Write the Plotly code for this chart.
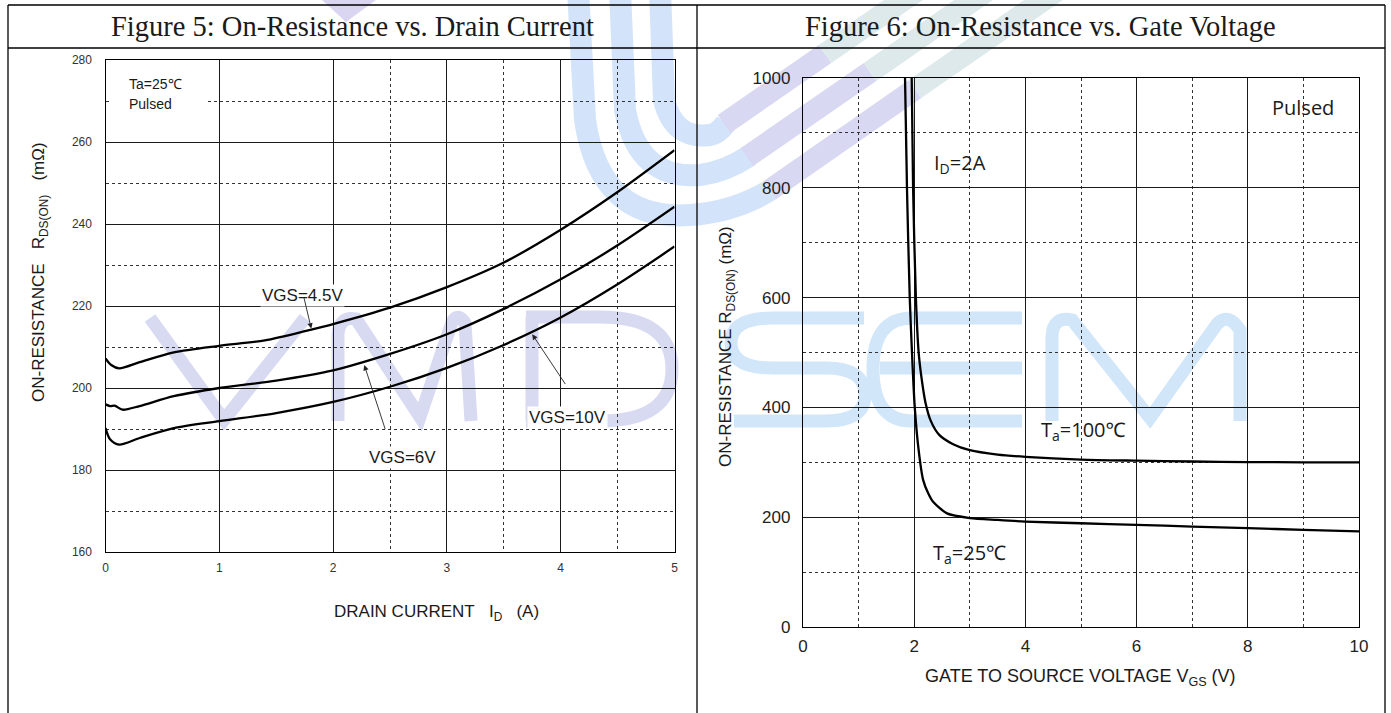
import plotly.graph_objects as go

W, H = 1391, 713

# ---------------- Figure 5 data: On-Resistance vs. Drain Current ----------------
id_vgs45 = [0, 0.05, 0.12, 0.3, 0.6, 1.0, 1.4, 1.8, 2.0, 2.5, 3.0, 3.5, 4.0, 4.5, 5.0]
r_vgs45 = [207.2, 205.6, 204.8, 206.3, 208.7, 210.3, 211.6, 214.2, 215.6, 219.6, 224.6, 230.6, 238.6, 247.8, 258.0]

id_vgs6 = [0, 0.04, 0.08, 0.15, 0.3, 0.6, 1.0, 1.5, 2.0, 2.5, 3.0, 3.5, 4.0, 4.5, 5.0]
r_vgs6 = [196.0, 195.6, 195.7, 194.7, 195.6, 198.0, 200.0, 201.8, 204.3, 208.3, 213.1, 219.3, 226.5, 234.8, 244.2]

id_vgs10 = [0, 0.04, 0.12, 0.3, 0.6, 1.0, 1.5, 2.0, 2.5, 3.0, 3.5, 4.0, 4.5, 5.0]
r_vgs10 = [190.2, 187.5, 186.2, 187.8, 190.2, 191.9, 193.9, 196.6, 200.3, 204.9, 210.5, 217.2, 225.3, 234.5]

fig5_xticks = [0, 1, 2, 3, 4, 5]
fig5_xminor = [2.5, 3.5, 4.5]
fig5_yticks = [160, 180, 200, 220, 240, 260, 280]
fig5_yminor = [170, 190, 210, 230, 250, 270]
fig5_labels = ["VGS=4.5V", "VGS=6V", "VGS=10V"]

# ---------------- Figure 6 data: On-Resistance vs. Gate Voltage ----------------
vgs_25 = [1.835, 1.87, 1.92, 1.96, 2.01, 2.08, 2.16, 2.25, 2.34, 2.59, 3.0, 3.5, 4.0, 5.0, 6.0, 7.0, 8.0, 9.0, 10.0]
r_25 = [1000, 800, 600, 500, 400, 322, 268, 244, 228, 207, 198.5, 195, 192, 189, 186, 183, 180, 177, 174]

vgs_100 = [1.955, 1.98, 2.03, 2.08, 2.13, 2.20, 2.30, 2.45, 2.70, 3.0, 3.5, 4.0, 5.0, 6.0, 7.0, 8.0, 9.0, 10.0]
r_100 = [1000, 800, 600, 500, 455, 410, 375, 350, 333, 322, 314, 310, 305, 303, 301.5, 300.5, 300, 300]

fig6_xticks = [0, 2, 4, 6, 8, 10]
fig6_xminor = [1, 3, 5, 7, 9]
fig6_yticks = [0, 200, 400, 600, 800, 1000]
fig6_yminor = [100, 300, 500, 700, 900]

SANS = "Liberation Sans, Arial, sans-serif"
OPEN = "Open Sans, Noto Sans, sans-serif"
SERIF = "Liberation Serif, Times New Roman, serif"
INK = "#1a1a1a"


def px(p):
    return p / W


def py(p):
    return 1 - p / H


def P(*segs):
    out = []
    for cmd, *pts in segs:
        if cmd == "Z":
            out.append("Z")
            continue
        out.append(cmd + " ".join(f"{px(x):.5f},{py(y):.5f}" for x, y in pts))
    return " ".join(out)


fig = go.Figure()
for xs, ys in [(id_vgs45, r_vgs45), (id_vgs6, r_vgs6), (id_vgs10, r_vgs10)]:
    fig.add_trace(go.Scatter(x=xs, y=ys, mode="lines",
                             line=dict(color="black", width=2.3, shape="spline", smoothing=0.8),
                             xaxis="x", yaxis="y", showlegend=False, hoverinfo="skip"))
for xs, ys in [(vgs_25, r_25), (vgs_100, r_100)]:
    fig.add_trace(go.Scatter(x=xs, y=ys, mode="lines",
                             line=dict(color="black", width=2.3, shape="spline", smoothing=0.7),
                             xaxis="x2", yaxis="y2", showlegend=False, hoverinfo="skip"))

axis_common = dict(showline=True, linecolor="black", linewidth=1.3, mirror=True,
                   showgrid=True, gridcolor="#1a1a1a", gridwidth=1, zeroline=False,
                   ticks="", fixedrange=True, automargin=False)


def minor(vals):
    return dict(tickmode="array", tickvals=vals, showgrid=True, gridcolor="#333",
                griddash="dot", gridwidth=1, ticks="")


fig.update_layout(
    xaxis=dict(axis_common, domain=[px(105.5), px(674.5)], range=[0, 5], tickmode="array",
               tickvals=fig5_xticks, minor=minor(fig5_xminor), anchor="y",
               tickfont=dict(size=12, family=SANS, color="#333"), ticklabelstandoff=4),
    yaxis=dict(axis_common, domain=[py(552), py(60)], range=[160, 280], tickmode="array",
               tickvals=fig5_yticks, minor=minor(fig5_yminor), anchor="x",
               tickfont=dict(size=12, family=SANS, color="#333"), ticklabelstandoff=10),
    xaxis2=dict(axis_common, domain=[px(803), px(1359)], range=[0, 10], tickmode="array",
                tickvals=fig6_xticks, minor=minor(fig6_xminor), anchor="y2",
                tickfont=dict(size=17, family=SANS, color="#222"), ticklabelstandoff=3),
    yaxis2=dict(axis_common, domain=[py(627), py(78)], range=[0, 1000], tickmode="array",
                tickvals=fig6_yticks, minor=minor(fig6_yminor), anchor="x2",
                tickfont=dict(size=17, family=SANS, color="#222"), ticklabelstandoff=8),
)

# ---------------- watermark / logo (decorative shapes, below the grid) ----------------
lav = "#d8daf2"
blu = "#d2e6fa"
shapes = []


def deco(path, color, width, fill="rgba(0,0,0,0)"):
    shapes.append(dict(type="path", path=path, xref="paper", yref="paper", layer="below",
                       line=dict(color=color, width=width), fillcolor=fill))


# letters V M D (lavender) and S E M (blue)
deco(P(("M", (150, 318)), ("L", (224, 420)), ("L", (305, 318))), lav, 13)
deco(P(("M", (338, 421)), ("L", (338, 335)), ("Q", (339, 316), (356, 319)), ("L", (420, 417)),
       ("L", (452, 322)), ("Q", (458, 312), (465, 323)), ("L", (471, 421))), lav, 13)
deco(P(("M", (532, 317)), ("L", (532, 421)), ("M", (526, 317)), ("L", (600, 317)),
       ("Q", (672, 317), (672, 369)), ("Q", (672, 421), (600, 421)), ("L", (526, 421))), lav, 13)
deco(P(("M", (864, 318)), ("L", (772, 318)), ("Q", (731, 318), (731, 343)), ("Q", (731, 368), (772, 368)),
       ("L", (826, 368)), ("Q", (865, 368), (865, 395)), ("Q", (865, 421), (826, 421)), ("L", (734, 421))), blu, 13)
deco(P(("M", (1022, 318)), ("L", (912, 318)), ("Q", (873, 318), (873, 369)), ("Q", (873, 421), (912, 421)),
       ("L", (1022, 421)), ("M", (880, 368)), ("L", (1022, 368))), blu, 13)
deco(P(("M", (1052, 421)), ("L", (1052, 336)), ("Q", (1053, 316), (1072, 320)), ("L", (1150, 418)),
       ("L", (1217, 324)), ("Q", (1228, 312), (1240, 330)), ("L", (1240, 421))), blu, 13)

# logo stripes: U-curve on the left, diagonal bands to the upper right
stripe_u = [
    P(("M", (578, -10)), ("L", (585, 120)), ("Q", (600, 222), (690, 215)), ("Q", (735, 212), (772, 189))),
    P(("M", (620, -10)), ("L", (625, 110)), ("Q", (638, 180), (700, 175)), ("Q", (725, 172), (749, 156))),
    P(("M", (660, -10)), ("L", (664, 100)), ("Q", (674, 140), (710, 135)), ("Q", (718, 134), (726, 123))),
]
stripe_d1 = [
    P(("M", (770, 190)), ("L", (915, 89))),
    P(("M", (747, 157)), ("L", (870, 72))),
    P(("M", (724, 124)), ("L", (825, 54))),
]
stripe_d2 = [
    P(("M", (915, 89)), ("L", (1058, -10))),
    P(("M", (870, 72)), ("L", (988, -10))),
    P(("M", (825, 54)), ("L", (918, -10))),
]
for p in stripe_u:
    deco(p, "#d3e4fa", 22)
for p in stripe_d1:
    deco(p, "#d8d8f2", 22)
for p in stripe_d2:
    deco(p, "#dde9ea", 22)
deco(P(("M", (322, 0)), ("L", (376, 0)), ("L", (346, 22)), ("Z",)), "rgba(0,0,0,0)", 0, fill="#dad6f2")

# white box behind the "Ta=25℃ / Pulsed" note
shapes.append(dict(type="rect", xref="paper", yref="paper", x0=px(110), x1=px(207), y0=py(116), y1=py(70),
                   line=dict(width=0), fillcolor="white", layer="above"))

# ---------------- table frame ----------------
frame = [
    (8, 5, 1385, 5), (8, 48, 1385, 48), (8, 5, 8, 713), (1385, 5, 1385, 713), (697, 5, 697, 713),
]
for x0, y0, x1, y1 in frame:
    shapes.append(dict(type="line", xref="paper", yref="paper", x0=px(x0), y0=py(y0), x1=px(x1), y1=py(y1),
                       line=dict(color="black", width=1.3), layer="above"))

ann = []


def paper_text(text, x, y, size, family, **kw):
    ann.append(dict(text=text, x=px(x), y=py(y), xref="paper", yref="paper", xanchor="center",
                    yanchor="middle", showarrow=False, font=dict(size=size, family=family, color=INK), **kw))


# titles
paper_text("Figure 5: On-Resistance vs. Drain Current", 352, 27, 28.5, SERIF)
paper_text("Figure 6: On-Resistance vs. Gate Voltage", 1040, 27, 28.5, SERIF)
# axis titles
nb = "\u00a0"
paper_text(f"ON-RESISTANCE{nb*3}R<sub>DS(ON)</sub>{nb*3}(mΩ)", 40, 272, 17, SANS, textangle=-90)
paper_text(f"DRAIN CURRENT{nb*3}I<sub>D</sub>{nb*3}(A)", 436, 613, 17, SANS)
paper_text("ON-RESISTANCE R<sub>DS(ON)</sub> (mΩ)", 727, 347, 17, SANS, textangle=-90)
paper_text("GATE TO SOURCE VOLTAGE V<sub>GS</sub> (V)", 1080, 677, 18, SANS)

# Figure 5 in-plot notes
for text, ypx in [("Ta=25℃", 84), ("Pulsed", 104)]:
    ann.append(dict(text=text, x=px(127), y=py(ypx), xref="paper", yref="paper", xanchor="left",
                    yanchor="middle", showarrow=False, font=dict(size=14, family=SANS, color=INK)))
label_pos = [(1.734, 222.6), (2.606, 183.0), (4.058, 192.7)]
arrow_head = [(1.808, 214.5), (2.274, 205.6), (3.75, 213.1)]
arrow_tail = [(1.74, 222.5), (2.462, 189.6), (4.049, 200.6)]
for lab, (lx, ly) in zip(fig5_labels, label_pos):
    ann.append(dict(text=lab, x=lx, y=ly, xref="x", yref="y", xanchor="center", yanchor="middle",
                    showarrow=False, bgcolor="white", borderpad=1,
                    font=dict(size=17, family=SANS, color=INK)))
for (hx, hy), (tx, ty) in zip(arrow_head, arrow_tail):
    ann.append(dict(text="", x=hx, y=hy, ax=tx, ay=ty, xref="x", yref="y", axref="x", ayref="y",
                    showarrow=True, arrowhead=2, arrowsize=1.2, arrowwidth=0.9, arrowcolor="#222",
                    standoff=0, startstandoff=0))

# Figure 6 in-plot notes
for text, x, y in [("Pulsed", 9.0, 947), ("I<sub>D</sub>=2A", 2.82, 845),
                   ("T<sub>a</sub>=100℃", 5.04, 358), ("T<sub>a</sub>=25℃", 3.0, 133)]:
    ann.append(dict(text=text, x=x, y=y, xref="x2", yref="y2", xanchor="center", yanchor="middle",
                    showarrow=False, font=dict(size=20, family=OPEN, color=INK)))

fig.update_layout(
    annotations=ann,
    shapes=shapes,
    width=W, height=H,
    autosize=False,
    margin=dict(l=0, r=0, t=0, b=0, pad=0),
    paper_bgcolor="white",
    plot_bgcolor="rgba(0,0,0,0)",
    font=dict(family=SANS, color=INK),
    showlegend=False,
)

fig.write_html("out.html", include_plotlyjs=True, config={"displayModeBar": False},
               post_script="document.body.style.margin='0px';document.documentElement.style.overflow='hidden';")
